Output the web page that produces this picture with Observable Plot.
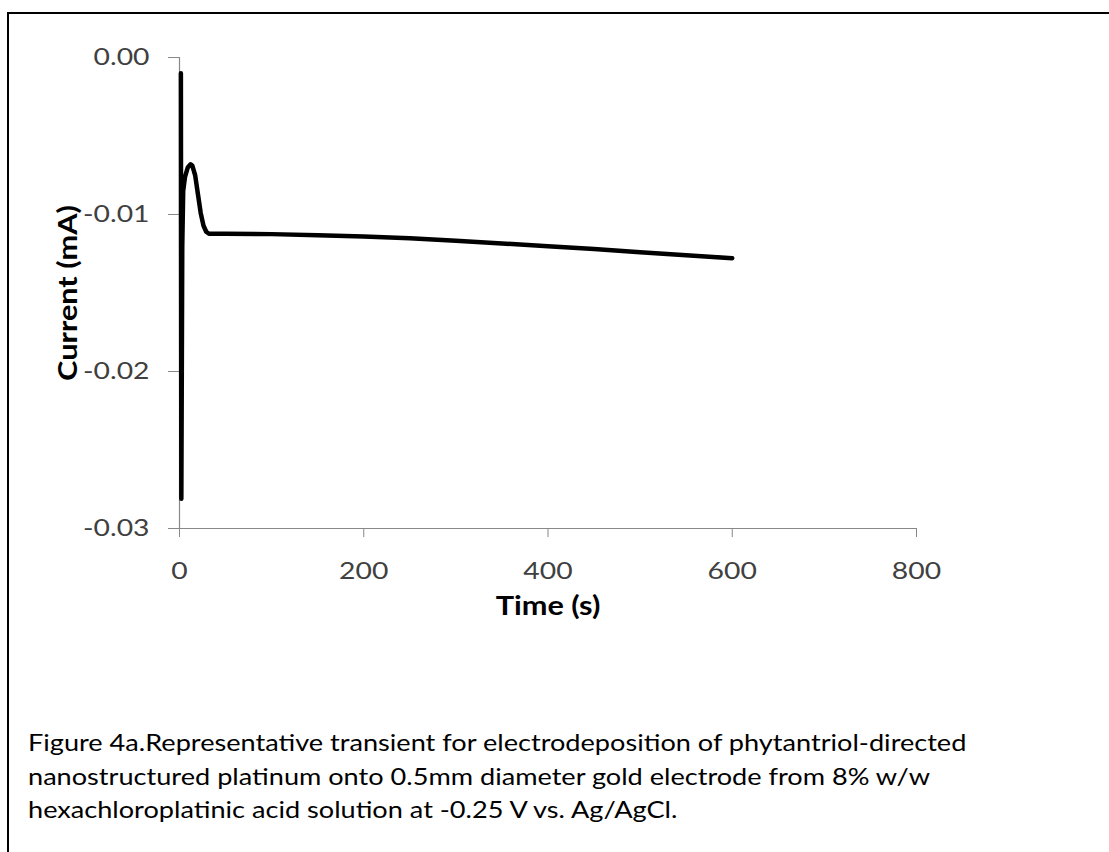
<!DOCTYPE html>
<html><head><meta charset="utf-8">
<script src="https://cdn.jsdelivr.net/npm/d3@7"></script>
<script src="https://cdn.jsdelivr.net/npm/@observablehq/plot@0.6"></script>
<style>
html,body{margin:0;padding:0;background:#fff;}
#page{position:relative;width:1109px;height:852px;overflow:hidden;background:#fff;font-family:Lato,sans-serif;}
#frame{position:absolute;left:7px;top:12px;width:1200px;height:900px;border-top:2.5px solid #000;border-left:2.5px solid #000;}
#chart{position:absolute;left:0;top:0;}
#caption{position:absolute;left:28px;top:725px;font-size:24px;line-height:33.5px;color:#000;white-space:nowrap;transform:scaleX(1.13);transform-origin:0 0;}
</style></head>
<body><div id="page"><div id="frame"></div><div id="chart"></div><div id="caption"></div></div>
<script>
const time = [1.5, 2, 3, 4, 6, 9, 12, 14, 17, 20, 23, 26, 29, 32, 50, 100, 150, 200, 250, 300, 350, 400, 450, 500, 550, 600];
const current = [-0.0010, -0.0281, -0.0120, -0.0085, -0.0076, -0.0070, -0.0068, -0.0069, -0.0075, -0.0087, -0.0099, -0.0107, -0.0111, -0.01123, -0.01122, -0.01125, -0.01132, -0.01140, -0.01152, -0.01167, -0.01184, -0.01202, -0.01220, -0.01240, -0.01259, -0.01278];
const xTicks = [0, 200, 400, 600, 800];
const xTickLabels = ["0", "200", "400", "600", "800"];
const yTicks = [0, -0.01, -0.02, -0.03];
const yTickLabels = ["0.00", "-0.01", "-0.02", "-0.03"];
const xLabel = "Time (s)";
const yLabel = "Current (mA)";
const captionLines = [
  "Figure 4a.Representative transient for electrodeposition of phytantriol-directed",
  "nanostructured platinum onto 0.5mm diameter gold electrode from 8% w/w",
  "hexachloroplatinic acid solution at -0.25 V vs. Ag/AgCl."
];

const data = time.map((t, i) => ({t, c: current[i]}));

const chart = Plot.plot({
  width: 1109, height: 680,
  marginLeft: 179, marginRight: 193, marginTop: 57, marginBottom: 152,
  x: {domain: [0, 800]},
  y: {domain: [-0.03, 0]},
  style: {fontFamily: "Lato, sans-serif", fontSize: "24px", background: "transparent", overflow: "visible"},
  marks: [
    Plot.ruleY([-0.03], {stroke: "#888", strokeWidth: 1.2}),
    Plot.ruleX([0], {stroke: "#888", strokeWidth: 1.2}),
    Plot.axisX({ticks: xTicks, tickFormat: d => xTickLabels[xTicks.indexOf(d)], tickSize: 9, tickPadding: 24, stroke: "#888", fill: "#404040", fontSize: 24, label: null}),
    Plot.axisY({ticks: yTicks, tickFormat: d => yTickLabels[yTicks.indexOf(d)], tickSize: 11, tickPadding: 19, stroke: "#888", fill: "#404040", fontSize: 24, label: null}),
    Plot.line(data, {x: "t", y: "c", stroke: "#000", strokeWidth: 4.5, strokeLinejoin: "round"}),
    Plot.text([xLabel], {frameAnchor: "bottom", dy: 86, fontWeight: "bold", fill: "#000", fontSize: 26}),
    Plot.text([yLabel], {frameAnchor: "left", textAnchor: "middle", dx: -111, rotate: -90, fontWeight: "bold", fill: "#000", fontSize: 26})
  ]
});

// widen glyphs horizontally (along the text direction) to match the reference's lettering
chart.querySelectorAll("text").forEach(el => {
  const t = el.getAttribute("transform") || "";
  el.setAttribute("transform", `${t} scale(1.18,1)`);
});

document.getElementById("chart").appendChild(chart);
document.getElementById("caption").innerHTML = captionLines.map(s => `<div>${s}</div>`).join("");
</script>
</body></html>
